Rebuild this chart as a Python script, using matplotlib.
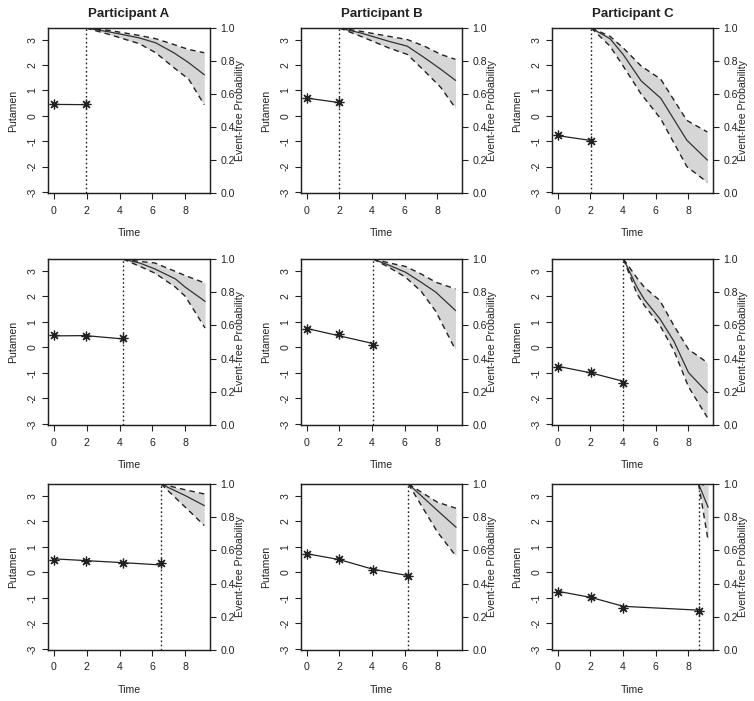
import matplotlib
matplotlib.use("Agg")
import matplotlib.pyplot as plt

plt.rcParams['font.family'] = ['Liberation Sans', 'DejaVu Sans']

participants = ["Participant A", "Participant B", "Participant C"]

# observed putamen values per participant (times and values)
obs_t_A = [0, 1.95, 4.2, 6.52]
obs_y_A = [0.47, 0.46, 0.35, 0.36]
obs_t_B = [0, 2.0, 4.06, 6.22]
obs_y_B = [0.72, 0.53, 0.11, -0.13]
obs_t_C = [0, 2.03, 4.02, 8.62]
obs_y_C = [-0.77, -0.98, -1.39, -1.51]

# fitted trajectories (row = number of observations used: 2, 3, 4)
fit_A = [[0.45, 0.44], [0.45, 0.46, 0.33], [0.53, 0.46, 0.38, 0.29]]
fit_B = [[0.70, 0.52], [0.74, 0.45, 0.15], [0.73, 0.50, 0.12, -0.13]]
fit_C = [[-0.78, -0.97], [-0.74, -1.00, -1.33], [-0.74, -0.98, -1.33, -1.48]]

# event-free probability predictions: times, median, upper, lower
surv_A1_t = [1.95, 3.4, 5.2, 6.2, 7.3, 8.2, 9.15]
surv_A1_m = [1.0, 0.976, 0.94, 0.91, 0.85, 0.79, 0.717]
surv_A1_u = [1.0, 0.985, 0.955, 0.935, 0.90, 0.87, 0.85]
surv_A1_l = [1.0, 0.96, 0.905, 0.85, 0.76, 0.69, 0.535]

surv_B1_t = [2.0, 3.3, 5.0, 6.15, 7.2, 8.2, 9.1]
surv_B1_m = [1.0, 0.97, 0.92, 0.89, 0.82, 0.75, 0.683]
surv_B1_u = [1.0, 0.98, 0.95, 0.93, 0.89, 0.84, 0.81]
surv_B1_l = [1.0, 0.95, 0.88, 0.84, 0.74, 0.64, 0.515]

surv_C1_t = [2.05, 3.2, 4.0, 5.1, 6.3, 7.9, 9.15]
surv_C1_m = [1.0, 0.935, 0.84, 0.68, 0.575, 0.32, 0.2]
surv_C1_u = [1.0, 0.95, 0.88, 0.77, 0.69, 0.44, 0.37]
surv_C1_l = [1.0, 0.89, 0.77, 0.60, 0.45, 0.16, 0.065]

surv_A2_t = [4.2, 5.25, 6.15, 7.4, 8.0, 9.2]
surv_A2_m = [1.0, 0.975, 0.94, 0.88, 0.83, 0.745]
surv_A2_u = [1.0, 0.985, 0.976, 0.925, 0.90, 0.855]
surv_A2_l = [1.0, 0.955, 0.915, 0.83, 0.775, 0.584]

surv_B2_t = [4.06, 5.1, 6.05, 7.0, 7.9, 9.1]
surv_B2_m = [1.0, 0.96, 0.92, 0.86, 0.80, 0.69]
surv_B2_u = [1.0, 0.975, 0.955, 0.91, 0.86, 0.82]
surv_B2_l = [1.0, 0.946, 0.89, 0.805, 0.684, 0.453]

surv_C2_t = [4.02, 4.85, 5.3, 6.25, 7.1, 8.0, 9.15]
surv_C2_m = [1.0, 0.83, 0.756, 0.64, 0.506, 0.316, 0.196]
surv_C2_u = [1.0, 0.886, 0.83, 0.75, 0.60, 0.456, 0.376]
surv_C2_l = [1.0, 0.79, 0.72, 0.60, 0.45, 0.23, 0.046]

surv_A3_t = [6.52, 8.0, 9.15]
surv_A3_m = [1.0, 0.93, 0.87]
surv_A3_u = [1.0, 0.965, 0.94]
surv_A3_l = [1.0, 0.86, 0.75]

surv_B3_t = [6.22, 8.0, 9.13]
surv_B3_m = [1.0, 0.84, 0.74]
surv_B3_u = [1.0, 0.89, 0.854]
surv_B3_l = [1.0, 0.71, 0.566]

surv_C3_t = [8.62, 9.2]
surv_C3_m = [1.0, 0.86]
surv_C3_u = [1.0, 0.99]
surv_C3_l = [1.0, 0.66]

x_ticks = [0, 2, 4, 6, 8]
y_ticks = [-3, -2, -1, 0, 1, 2, 3]
p_ticks = [0.0, 0.2, 0.4, 0.6, 0.8, 1.0]

obs = {0: (obs_t_A, obs_y_A, fit_A), 1: (obs_t_B, obs_y_B, fit_B), 2: (obs_t_C, obs_y_C, fit_C)}
surv = {
    (0, 0): (surv_A1_t, surv_A1_m, surv_A1_u, surv_A1_l),
    (0, 1): (surv_B1_t, surv_B1_m, surv_B1_u, surv_B1_l),
    (0, 2): (surv_C1_t, surv_C1_m, surv_C1_u, surv_C1_l),
    (1, 0): (surv_A2_t, surv_A2_m, surv_A2_u, surv_A2_l),
    (1, 1): (surv_B2_t, surv_B2_m, surv_B2_u, surv_B2_l),
    (1, 2): (surv_C2_t, surv_C2_m, surv_C2_u, surv_C2_l),
    (2, 0): (surv_A3_t, surv_A3_m, surv_A3_u, surv_A3_l),
    (2, 1): (surv_B3_t, surv_B3_m, surv_B3_u, surv_B3_l),
    (2, 2): (surv_C3_t, surv_C3_m, surv_C3_u, surv_C3_l),
}

W, H = 754, 701
fig = plt.figure(figsize=(W / 100, H / 100), dpi=100)

col_left = [48, 301, 552]
col_w = [162, 161, 161]
row_top = [28, 259, 484]
row_h = [165, 166, 166]

fs = 7.6
ink = "#222222"
asterisk = (8, 2, 0)

for r in range(3):
    for c in range(3):
        x0, w = col_left[c], col_w[c]
        y0, h = row_top[r], row_h[r]
        ax = fig.add_axes([x0 / W, 1 - (y0 + h) / H, w / W, h / H])
        ax.set_xlim(-0.35, 9.5)
        ax.set_ylim(-3.04, 3.46)
        n = r + 2
        t_obs, y_obs, fits = obs[c]
        t = t_obs[:n]
        ax.plot(t, fits[r], color=ink, lw=0.9)
        ax.plot(t, y_obs[:n], linestyle='none', marker=asterisk, ms=7,
                mew=0.9, color=ink)
        ax.axvline(t[-1], color=ink, lw=1.0, linestyle=(0, (1.2, 1.8)))

        ax2 = ax.twinx()
        ax2.set_ylim(0, 1.0)
        st, sm, su, sl = surv[(r, c)]
        ax2.fill_between(st, sl, su, color="#D6D6D6", lw=0)
        ax2.plot(st, sm, color="#333333", lw=0.9)
        ax2.plot(st, su, color=ink, lw=1.0, linestyle=(0, (4, 3)))
        ax2.plot(st, sl, color=ink, lw=1.0, linestyle=(0, (4, 3)))

        ax.set_xticks(x_ticks)
        ax.set_yticks(y_ticks)
        ax.set_yticklabels([str(v) for v in y_ticks], rotation=90, va='center')
        ax2.set_yticks(p_ticks)
        ax2.set_yticklabels([f"{v:.1f}" for v in p_ticks])
        for a in (ax, ax2):
            a.tick_params(direction='out', length=4, width=0.8, colors=ink,
                          labelsize=fs, pad=3.5)
            for s in a.spines.values():
                s.set_color(ink)
                s.set_linewidth(0.9)
        ax.tick_params(axis='x', pad=5)
        ax.set_xlabel("Time", fontsize=fs, color=ink, labelpad=9)
        ax.set_ylabel("Putamen", fontsize=fs, color=ink, labelpad=7)
        ax2.set_ylabel("Event-free Probability", fontsize=fs, color=ink, labelpad=0)
        if r == 0:
            ax.set_title(participants[c], fontsize=9.5, fontweight='bold',
                         color=ink, pad=8)

fig.savefig("out.png", dpi=100)
